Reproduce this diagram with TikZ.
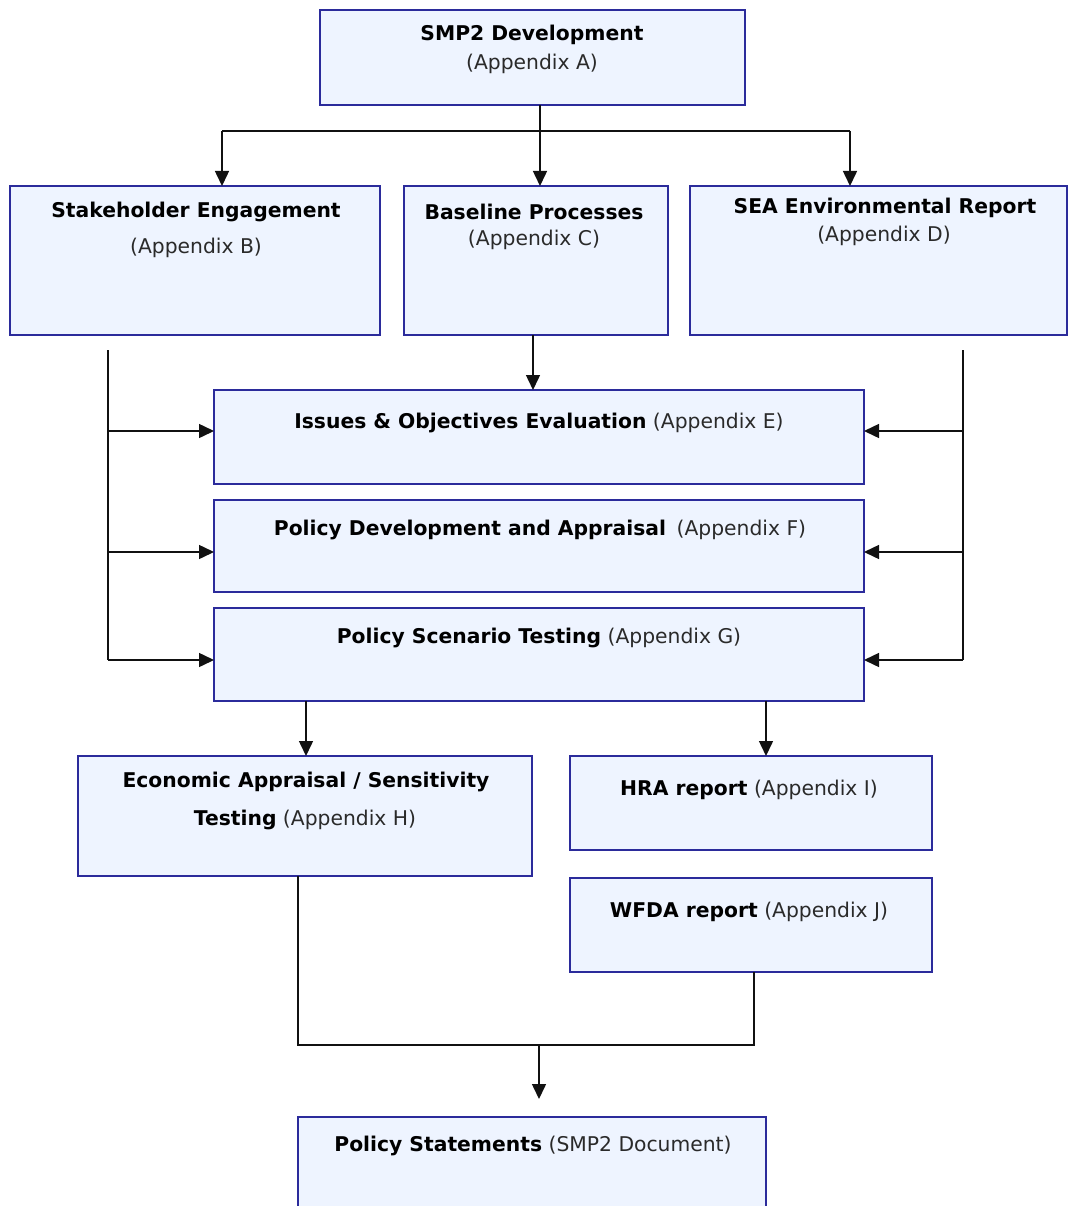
\documentclass[tikz,border=0pt]{standalone}
\usepackage{fontspec}
\setmainfont{DejaVu Sans}
\usetikzlibrary{arrows.meta}
\definecolor{boxfill}{HTML}{EEF4FF}
\definecolor{boxline}{HTML}{2B2B9B}
\definecolor{subtext}{HTML}{2A2A2A}
\definecolor{wire}{HTML}{111111}
\tikzset{
  box/.style={draw=boxline, fill=boxfill, line width=1.6pt, inner sep=0pt, outer sep=0pt, anchor=north west},
  txt/.style={inner sep=0pt, font=\fontsize{20.3}{24}\selectfont, text=black, yshift=-2pt},
  sub/.style={inner sep=0pt, font=\fontsize{20.3}{24}\selectfont, text=subtext, yshift=-2pt},
  wireline/.style={draw=wire, line width=1.5pt},
  arr/.style={wireline, -{Triangle[length=15pt,width=14pt]}}
}
\newcommand{\appx}[1]{{\color{subtext}\mdseries #1}}
\begin{document}
\begin{tikzpicture}[x=1pt,y=-1pt]
\useasboundingbox (0,0) rectangle (1068,1206);
% boxes
\node[box, minimum width=425pt, minimum height=95pt] (A) at (320,10) {};
\node[box, minimum width=370pt, minimum height=149pt] (B) at (10,186) {};
\node[box, minimum width=264pt, minimum height=149pt] (C) at (404,186) {};
\node[box, minimum width=377pt, minimum height=149pt] (D) at (690,186) {};
\node[box, minimum width=650pt, minimum height=94pt] (E) at (214,390) {};
\node[box, minimum width=650pt, minimum height=92pt] (F) at (214,500) {};
\node[box, minimum width=650pt, minimum height=93pt] (G) at (214,608) {};
\node[box, minimum width=454pt, minimum height=120pt] (H) at (78,756) {};
\node[box, minimum width=362pt, minimum height=94pt] (I) at (570,756) {};
\node[box, minimum width=362pt, minimum height=94pt] (J) at (570,878) {};
\node[box, minimum width=468pt, minimum height=100pt] (K) at (298,1117) {};
% texts
\node[txt] (tA) at (532,33) {\bfseries SMP2 Development};
\node[sub] (sA) at (532,62) {(Appendix A)};
\node[txt] (tB) at (196,210) {\bfseries Stakeholder Engagement};
\node[sub] (sB) at (196,246) {(Appendix B)};
\node[txt] (tC) at (534,210) {\bfseries Baseline Processes};
\node[sub] (sC) at (534,238) {(Appendix C)};
\node[txt] (tD) at (885,206) {\bfseries SEA Environmental Report};
\node[sub] (sD) at (884,234) {(Appendix D)};
\node[txt] (tE) at (539,421) {\textbf{Issues \& Objectives Evaluation} \appx{(Appendix E)}};
\node[txt] (tF) at (540,528) {\textbf{Policy Development and Appraisal}\hspace{0.2em} \appx{(Appendix F)}};
\node[txt] (tG) at (539,636) {\textbf{Policy Scenario Testing} \appx{(Appendix G)}};
\node[txt] (tH1) at (306,780) {\bfseries Economic Appraisal / Sensitivity};
\node[txt] (tH2) at (305,818) {\textbf{Testing} \appx{(Appendix H)}};
\node[txt] (tI) at (749,788) {\textbf{HRA report} \appx{(Appendix I)}};
\node[txt] (tJ) at (749,910) {\textbf{WFDA report} \appx{(Appendix J)}};
\node[txt] (tK) at (533,1144) {\textbf{Policy Statements} \appx{(SMP2 Document)}};
% top distribution
\coordinate (hub) at (540,131);
\coordinate (hubL) at (222,131);
\coordinate (hubR) at (850,131);
\draw[wireline] (A.south -| hub) -- (hub);
\draw[wireline] (hubL) -- (hubR);
\draw[arr] (hubL) -- (B.north -| hubL);
\draw[arr] (hub) -- (C.north -| hub);
\draw[arr] (hubR) -- (D.north -| hubR);
% C to E
\coordinate (cx) at (533,0);
\draw[arr] (C.south -| cx) -- (E.north -| cx);
% left bus
\coordinate (lt) at (108,350);
\coordinate (lb) at (108,660);
\coordinate (yE) at (0,431);
\coordinate (yF) at (0,552);
\coordinate (yG) at (0,660);
\draw[wireline] (lt) -- (lb);
\draw[arr] (lt |- yE) -- (E.west |- yE);
\draw[arr] (lt |- yF) -- (F.west |- yF);
\draw[arr] (lb) -- (G.west |- yG);
% right bus
\coordinate (rt) at (963,350);
\coordinate (rb) at (963,660);
\draw[wireline] (rt) -- (rb);
\draw[arr] (rt |- yE) -- (E.east |- yE);
\draw[arr] (rt |- yF) -- (F.east |- yF);
\draw[arr] (rb) -- (G.east |- yG);
% G to H and I
\coordinate (gh) at (306,0);
\coordinate (gi) at (766,0);
\draw[arr] (G.south -| gh) -- (H.north -| gh);
\draw[arr] (G.south -| gi) -- (I.north -| gi);
% H and J to K
\coordinate (hx) at (298,1045);
\coordinate (jx) at (754,1045);
\coordinate (mid) at (539,1045);
\coordinate (kend) at (539,1099);
\draw[wireline] (H.south -| hx) -- (hx) -- (jx) -- (J.south -| jx);
\draw[arr] (mid) -- (kend);
\end{tikzpicture}
\end{document}
